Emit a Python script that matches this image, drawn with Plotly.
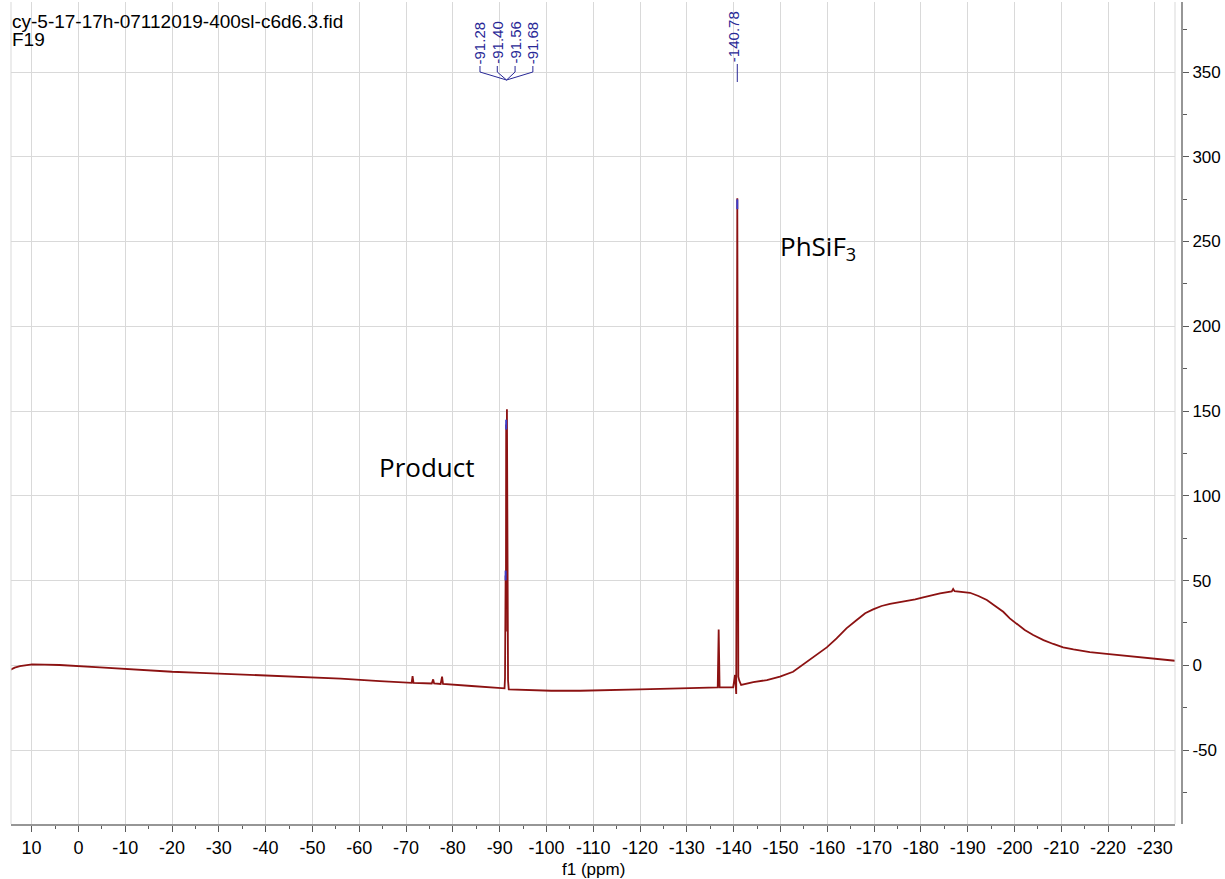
import plotly.graph_objects as go

# ---------------- data ----------------
ppm = [14.6, 13.6, 12.5, 11.2, 9.9, 7.2, 4.0, -4.6, -12.0, -20.0, -26.0, -35.0, -47.0, -56.0, -64.4,
       -70.9, -71.2, -71.4, -71.6, -75.5, -75.8, -76.0, -77.4, -77.7, -77.9, -84.0, -90.1,
       -91.05, -91.15, -91.28, -91.34, -91.40, -91.48, -91.56, -91.62, -91.68, -91.8, -91.95,
       -96.0, -101.0, -107.2, -113.0, -120.0, -128.6, -136.2, -136.6, -136.8, -137.0,
       -139.9, -140.3, -140.55, -140.78, -141.0, -141.2, -141.6,
       -144.2, -147.1, -149.9, -152.7, -155.6, -157.7, -159.9, -162.0, -164.1, -166.3, -168.1,
       -169.8, -171.6, -173.4, -175.2, -177.0, -178.8, -180.5, -182.3, -184.1, -186.6, -186.9,
       -187.2, -188.4, -190.5, -192.3, -194.1, -195.8, -197.6, -199.0, -200.5, -202.2, -204.0,
       -206.2, -208.3, -210.4, -212.6, -216.1, -219.7, -223.2, -226.8, -230.4, -234.3]
intensity = [-2.8, -1.4, -0.5, 0.2, 0.5, 0.4, 0.2, -1.2, -2.6, -3.8, -4.4, -5.3, -6.5, -7.8, -9.3,
             -10.3, -10.3, -6.3, -10.4, -10.7, -8.3, -10.7, -11.0, -6.7, -11.0, -12.2, -13.2,
             -13.6, -7.5, 53.0, 20.0, 142.0, 60.0, 151.0, 30.0, 50.0, -9.0, -14.2,
             -14.6, -15.0, -15.0, -14.8, -14.2, -13.6, -13.0, -13.0, 21.2, -13.0,
             -13.0, -5.7, -16.9, 275.6, -6.7, -9.0, -11.6,
             -9.9, -8.7, -6.7, -3.8, 2.1, 6.1, 10.6, 15.9, 21.8, 26.7, 30.7,
             33.0, 35.0, 36.2, 37.1, 37.8, 38.9, 40.1, 41.3, 42.5, 43.6, 45.0,
             43.7, 43.4, 42.8, 40.9, 38.5, 35.2, 31.6, 27.7, 24.4, 20.8, 17.9,
             14.9, 12.6, 10.6, 9.4, 7.8, 6.7, 5.7, 4.7, 3.7, 2.7]

# picked-peak marks (blue)
mark_ppm = [-91.40, -91.28, -140.78]
mark_val = [142.0, 53.0, 272.0]

# peak labels
mult_labels = ["-91.28", "-91.40", "-91.56", "-91.68"]
mult_label_pos = [-85.8, -89.5, -93.3, -97.1]
mult_center = -91.48
single_labels = ["-140.78"]
single_label_pos = [-140.0]
single_peak_ppm = [-140.78]

x_ticks = [10, 0, -10, -20, -30, -40, -50, -60, -70, -80, -90, -100, -110, -120, -130,
           -140, -150, -160, -170, -180, -190, -200, -210, -220, -230]
x_ticktext = ["10", "0", "-10", "-20", "-30", "-40", "-50", "-60", "-70", "-80", "-90", "-100",
              "-110", "-120", "-130", "-140", "-150", "-160", "-170", "-180", "-190", "-200",
              "-210", "-220", "-230"]
x_minor = [15, 5, -5, -15, -25, -35, -45, -55, -65, -75, -85, -95, -105, -115, -125, -135,
           -145, -155, -165, -175, -185, -195, -205, -215, -225]
y_ticks = [-50, 0, 50, 100, 150, 200, 250, 300, 350]
y_ticktext = ["-50", "0", "50", "100", "150", "200", "250", "300", "350"]
y_minor = [-75, -25, 25, 75, 125, 175, 225, 275, 325, 375]

header_lines = ["cy-5-17-17h-07112019-400sl-c6d6.3.fid", "F19"]
compound_labels = ["Product", "PhSiF<sub>3</sub>"]
compound_pos_ppm = [-74.4, -158.0]
compound_pos_val = [117.0, 247.0]

# ---------------- figure ----------------
W, H = 1225, 879
ML, MR, MT, MB = 11, 50, 2, 55
PH = H - MT - MB


def py(px):
    """pixel row -> paper y"""
    return (H - MB - px) / PH


BLUE = "rgb(40,40,150)"
RED = "rgb(140,18,18)"
GRID = "rgb(217,217,217)"
FONT = "Liberation Sans, Arial, Helvetica, sans-serif"

fig = go.Figure()
fig.add_trace(go.Scatter(x=ppm, y=intensity, mode="lines",
                         line=dict(color=RED, width=1.8), hoverinfo="skip", showlegend=False))
fig.add_trace(go.Scatter(x=mark_ppm, y=mark_val, mode="markers",
                         marker=dict(symbol="line-ns", size=7, line=dict(color="rgb(60,60,200)", width=2)),
                         hoverinfo="skip", showlegend=False))

annotations = []
shapes = []
for lab, pos in zip(mult_labels, mult_label_pos):
    annotations.append(dict(x=pos, xref="x", y=py(66), yref="paper", text=lab, textangle=-90,
                            showarrow=False, xanchor="center", yanchor="bottom",
                            font=dict(family=FONT, size=15, color=BLUE)))
    shapes.append(dict(type="line", xref="x", yref="paper", x0=pos, x1=pos, y0=py(66), y1=py(72),
                       line=dict(color=BLUE, width=1)))
    shapes.append(dict(type="line", xref="x", yref="paper", x0=pos, x1=mult_center, y0=py(72), y1=py(80),
                       line=dict(color=BLUE, width=1)))
for lab, pos, pk in zip(single_labels, single_label_pos, single_peak_ppm):
    annotations.append(dict(x=pos, xref="x", y=py(64), yref="paper", text=lab, textangle=-90,
                            showarrow=False, xanchor="center", yanchor="bottom",
                            font=dict(family=FONT, size=15, color=BLUE)))
    shapes.append(dict(type="line", xref="x", yref="paper", x0=pk, x1=pk, y0=py(64), y1=py(82),
                       line=dict(color=BLUE, width=1)))

# header
annotations.append(dict(x=0, xref="paper", xshift=-1, y=py(21), yref="paper", text=header_lines[0],
                        showarrow=False, xanchor="left", yanchor="middle",
                        font=dict(family=FONT, size=19, color="black")))
annotations.append(dict(x=0, xref="paper", xshift=-1, y=py(39), yref="paper", text=header_lines[1],
                        showarrow=False, xanchor="left", yanchor="middle",
                        font=dict(family=FONT, size=19, color="black")))
# compound labels
for lab, xx, yy in zip(compound_labels, compound_pos_ppm, compound_pos_val):
    annotations.append(dict(x=xx, y=yy, xref="x", yref="y", text=lab, showarrow=False,
                            xanchor="center", yanchor="middle",
                            font=dict(family="Open Sans, sans-serif", size=26, color="black")))
# x title
annotations.append(dict(x=(593 - ML) / (W - ML - MR), xref="paper", y=py(869), yref="paper",
                        text="f1 (ppm)", showarrow=False, xanchor="center", yanchor="middle",
                        font=dict(family=FONT, size=17, color="black")))

# frame edges
shapes.append(dict(type="line", xref="paper", yref="paper", x0=0, x1=0, y0=0, y1=1,
                   line=dict(color=GRID, width=1)))
shapes.append(dict(type="line", xref="paper", yref="paper", x0=1, x1=1, y0=0, y1=1,
                   line=dict(color=GRID, width=1)))

fig.update_layout(
    width=W, height=H,
    margin=dict(l=ML, r=MR, t=MT, b=MB, pad=0),
    paper_bgcolor="white", plot_bgcolor="white",
    showlegend=False,
    annotations=annotations,
    shapes=shapes,
    xaxis=dict(range=[14.4, -234.3], tickmode="array", tickvals=x_ticks, ticktext=x_ticktext,
               showgrid=True, gridcolor=GRID, gridwidth=1, zeroline=False,
               showline=True, linecolor="rgb(150,150,150)", linewidth=2,
               ticks="outside", ticklen=6, tickcolor="rgb(90,90,90)", tickwidth=1,
               tickfont=dict(family=FONT, size=18, color="black"),
               minor=dict(tickmode="array", tickvals=x_minor, ticks="outside", ticklen=3,
                          tickcolor="rgb(90,90,90)", showgrid=False)),
    yaxis=dict(range=[-93.6, 391.3], side="right", anchor="free", position=1, shift=7,
               tickmode="array", tickvals=y_ticks, ticktext=y_ticktext,
               showgrid=True, gridcolor=GRID, gridwidth=1, zeroline=False,
               showline=True, linecolor="rgb(150,150,150)", linewidth=2,
               ticks="outside", ticklen=6, tickcolor="rgb(90,90,90)", tickwidth=1,
               tickfont=dict(family=FONT, size=17, color="black"),
               minor=dict(tickmode="array", tickvals=y_minor, ticks="outside", ticklen=4,
                          tickcolor="rgb(90,90,90)", showgrid=False)),
)

fig.write_html("out.html", config={"displayModeBar": False},
               post_script="document.body.style.margin='0px';")
